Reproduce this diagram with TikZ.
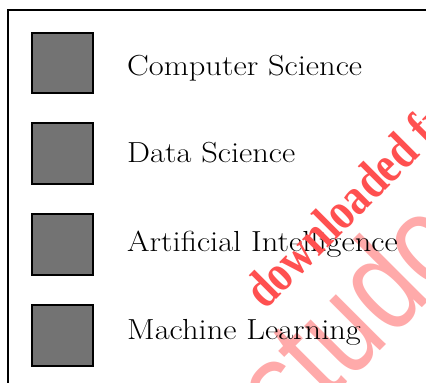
\documentclass[tikz,border=0pt]{standalone}
\usepackage{fontspec}
\newfontfamily\wmserif{Liberation Serif}
\newfontfamily\wmsans{Liberation Sans}
\definecolor{boxgray}{RGB}{115,115,115}
\definecolor{wmred}{RGB}{255,80,80}
\definecolor{wmpink}{RGB}{255,170,170}
\newcommand{\widelabel}[1]{\scalebox{1.12}[1]{#1}}
\begin{document}
\begin{tikzpicture}[x=1pt,y=-1pt,
  sq/.style={draw=black,line width=1.3pt,fill=boxgray},
  lbl/.style={anchor=base west,inner sep=0pt,font=\fontsize{29}{30}\selectfont},
  frame/.style={draw=black,line width=1.5pt}]
\useasboundingbox (0,0) rectangle (426,383);
\clip (0,0) rectangle (426,383);
\node[anchor=base west,inner sep=0pt,text=wmpink,rotate=45,font=\wmsans\fontsize{107}{107}\selectfont] (wm2) at (290,440) {\scalebox{1}[1.25]{studocu}};
\draw[frame] (8,400) -- (8,10) -- (440,10);
\draw[sq] (32,33) rectangle (93,93) node[midway] (s1) {};
\draw[sq] (32,123) rectangle (93,184) node[midway] (s2) {};
\draw[sq] (32,214) rectangle (93,275) node[midway] (s3) {};
\draw[sq] (32,305) rectangle (93,366) node[midway] (s4) {};
\node[lbl] (t1) at (127,75) {\widelabel{Computer Science}};
\node[lbl] (t2) at (127,162) {\widelabel{Data Science}};
\node[lbl] (t3) at (127,251) {\widelabel{Artificial Intelligence}};
\node[lbl] (t4) at (127,339) {\widelabel{Machine Learning}};
\node[anchor=base west,inner sep=0pt,text=wmred,rotate=45,font=\wmserif\bfseries\fontsize{52}{52}\selectfont] (wm1) at (265,311) {\scalebox{0.82}[1]{downloaded from studocu}};
\end{tikzpicture}
\end{document}
